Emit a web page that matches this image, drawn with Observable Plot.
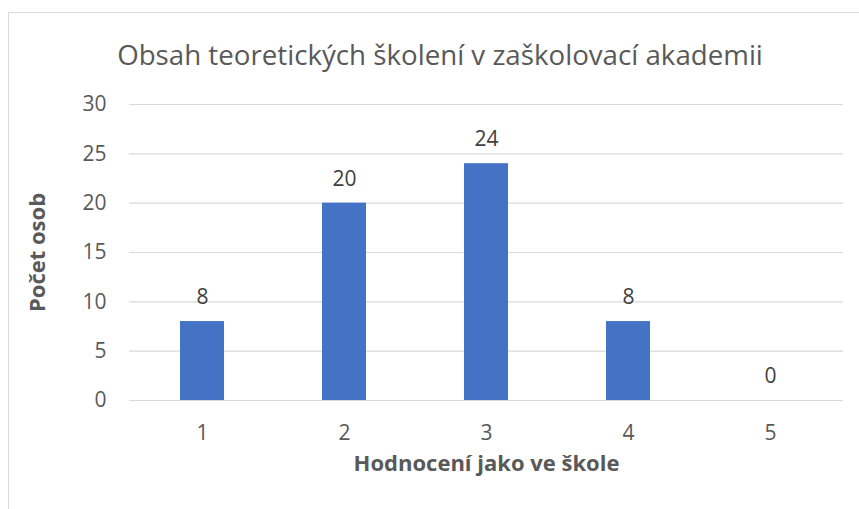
<!DOCTYPE html>
<html>
<head>
<meta charset="utf-8">
<script src="https://cdn.jsdelivr.net/npm/d3@7"></script>
<script src="https://cdn.jsdelivr.net/npm/@observablehq/plot@0.6"></script>
<style>
  html, body { margin: 0; padding: 0; background: #fff; }
  #wrap { position: relative; width: 859px; height: 509px; overflow: hidden; font-family: "Open Sans", Lato, sans-serif; }
  #frame { position: absolute; left: 8px; top: 12px; width: 900px; height: 600px; border: 1px solid #d9d9d9; box-sizing: border-box; }
  #title { position: absolute; left: 0; top: 41px; width: 880px; text-align: center; font-size: 27.7px; line-height: 1; color: #595959; white-space: nowrap; }
  #chart { position: absolute; left: 0; top: 0; }
</style>
</head>
<body>
<div id="wrap">
  <div id="frame"></div>
  <div id="title">Obsah teoretických školení v zaškolovací akademii</div>
  <div id="chart"></div>
</div>
<script>
const categories = ["1", "2", "3", "4", "5"];
const values = [8, 20, 24, 8, 0];
const yTicks = [0, 5, 10, 15, 20, 25, 30];
const xLabel = "Hodnocení jako ve škole";
const yLabel = "Počet osob";

const data = categories.map((c, i) => ({ cat: c, value: values[i] }));

const chart = Plot.plot({
  width: 859,
  height: 509,
  marginLeft: 129,
  marginRight: 16,
  marginTop: 104,
  marginBottom: 109,
  style: { fontFamily: "'Open Sans', Lato, sans-serif", fontSize: "21px", color: "#595959", background: "transparent" },
  x: { domain: categories, paddingInner: 0.69, paddingOuter: 0.345, label: null },
  y: { domain: [0, 30], ticks: yTicks, label: null },
  marks: [
    Plot.ruleY(yTicks, { stroke: "#d9d9d9", strokeWidth: 1.2 }),
    Plot.barY(data, { x: "cat", y: "value", fill: "#4472c4" }),
    Plot.text(data, { x: "cat", y: "value", text: d => String(d.value), dy: -24, fontSize: 21, fill: "#404040" }),
    Plot.axisY(yTicks, { tickSize: 0, tickPadding: 23, fontSize: 21, fill: "#595959", label: null }),
    Plot.axisX({ tickSize: 0, tickPadding: 25, fontSize: 21, fill: "#595959", label: null }),
    Plot.text([xLabel], { frameAnchor: "bottom", textAnchor: "middle", dy: 70, text: d => d, fontSize: 22, fontWeight: "bold", fill: "#595959" }),
    Plot.text([yLabel], { frameAnchor: "left", textAnchor: "middle", dx: -92, rotate: -90, text: d => d, fontSize: 22, fontWeight: "bold", fill: "#595959" })
  ]
});
document.getElementById("chart").appendChild(chart);
</script>
</body>
</html>
